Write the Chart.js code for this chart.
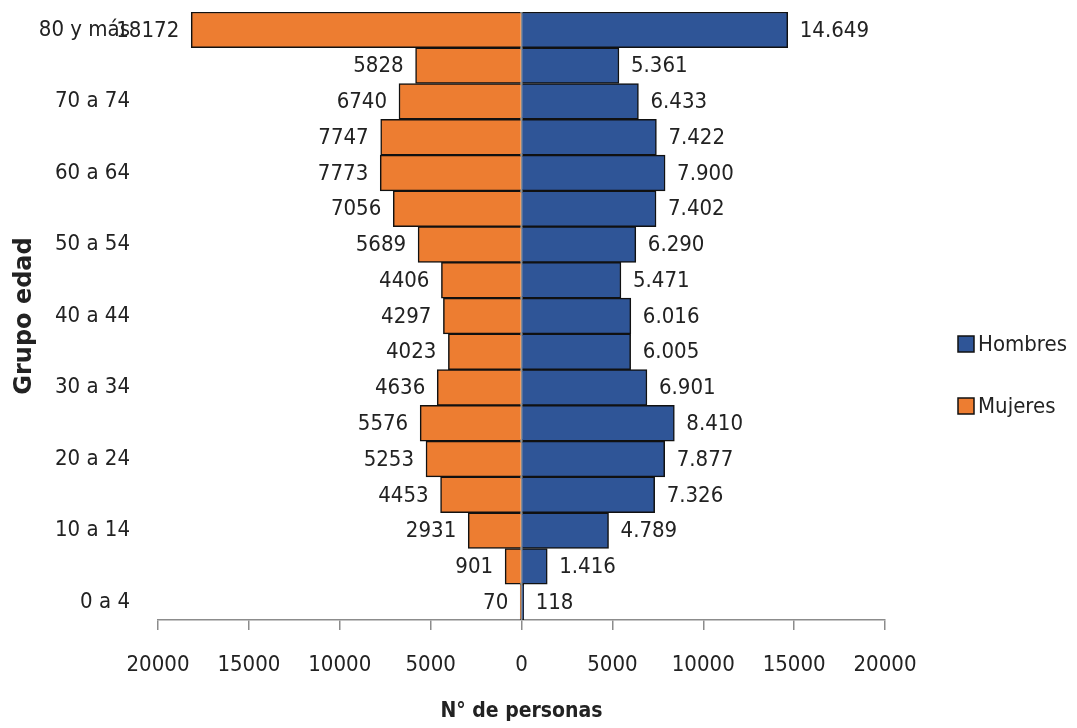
<!DOCTYPE html>
<html>
<head>
<meta charset="utf-8">
<script src="https://cdn.jsdelivr.net/npm/chart.js@4/dist/chart.umd.min.js"></script>
<style>
  body { margin: 0; background: #fff; }
  #caja { width: 1077px; height: 728px; }
</style>
</head>
<body>
<div id="caja"><canvas id="grafica"></canvas></div>
<script>
const grupos = ["80 y más", "75 a 79", "70 a 74", "65 a 69", "60 a 64", "55 a 59", "50 a 54", "45 a 49", "40 a 44",
    "35 a 39", "30 a 34", "25 a 29", "20 a 24", "15 a 19", "10 a 14", "5 a 9", "0 a 4"]
const hombres = [14649, 5361, 6433, 7422, 7900, 7402, 6290, 5471, 6016, 6005, 6901, 8410, 7877, 7326, 4789, 1416, 118]
const mujeres = [18172, 5828, 6740, 7747, 7773, 7056, 5689, 4406, 4297, 4023, 4636, 5576, 5253, 4453, 2931, 901, 70]
const marcas_x = [-20000, -15000, -10000, -5000, 0, 5000, 10000, 15000, 20000]

const fuente = '"DejaVu Sans Condensed", "DejaVu Sans", sans-serif'
const gris = "#8c8c8c"
const texto = "#222"

function conPuntos(n) {
    return String(n).replace(/\B(?=(\d{3})+(?!\d))/g, ".")
}

// etiquetas de valor al final de cada barra
const etiquetas = {
    id: "etiquetas",
    afterDatasetsDraw(chart) {
        const ctx = chart.ctx
        ctx.save()
        ctx.font = "22px " + fuente
        ctx.fillStyle = texto
        ctx.textBaseline = "middle"
        chart.data.datasets.forEach((ds, i) => {
            chart.getDatasetMeta(i).data.forEach((barra, j) => {
                const v = ds.data[j]
                if (v >= 0) {
                    ctx.textAlign = "left"
                    ctx.fillText(conPuntos(v), barra.x + 12, barra.y + 1)
                } else {
                    ctx.textAlign = "right"
                    ctx.fillText(String(-v), barra.x - 12, barra.y + 1)
                }
            })
        })
        ctx.restore()
    }
}

// leyenda a la derecha, separada del area
const leyenda = {
    id: "leyenda",
    afterDraw(chart) {
        const ctx = chart.ctx
        const x = chart.chartArea.right + 73
        const centro = chart.height / 2 + 11
        ctx.save()
        ctx.font = "22px " + fuente
        ctx.textBaseline = "middle"
        ctx.textAlign = "left"
        chart.data.datasets.forEach((ds, i) => {
            const y = centro + (i - 0.5) * 62
            ctx.fillStyle = ds.backgroundColor
            ctx.fillRect(x, y - 8, 16, 16)
            ctx.strokeStyle = "#111"
            ctx.lineWidth = 1.5
            ctx.strokeRect(x, y - 8, 16, 16)
            ctx.fillStyle = texto
            ctx.fillText(ds.label, x + 20, y + 1)
        })
        ctx.restore()
    }
}

const config = {
    type: "bar",
    data: {
        labels: grupos,
        datasets: [
            {
                label: "Hombres",
                data: hombres,
                backgroundColor: "#2f5597",
                borderColor: "#111",
                borderWidth: 1.5,
                barPercentage: 1,
                categoryPercentage: 1
            },
            {
                label: "Mujeres",
                data: mujeres.map(v => -v),
                backgroundColor: "#ed7d31",
                borderColor: "#111",
                borderWidth: 1.5,
                barPercentage: 1,
                categoryPercentage: 1
            }
        ]
    },
    options: {
        indexAxis: "y",
        responsive: true,
        maintainAspectRatio: false,
        animation: false,
        layout: { padding: { left: 0, right: 192, top: 12, bottom: 3 } },
        plugins: {
            legend: { display: false },
            tooltip: { enabled: false }
        },
        scales: {
            x: {
                stacked: true,
                min: -20000,
                max: 20000,
                afterBuildTicks(scale) {
                    scale.ticks = marcas_x.map(v => ({ value: v }))
                },
                afterFit(scale) {
                    scale.height = 105
                },
                grid: {
                    color: c => (c.tick && c.tick.value === 0 ? gris : "transparent"),
                    lineWidth: 1.5,
                    tickColor: gris,
                    tickWidth: 1.5,
                    tickLength: 10
                },
                border: { display: true, color: gris, width: 1.5 },
                ticks: {
                    color: texto,
                    padding: 22,
                    maxRotation: 0,
                    font: { family: fuente, size: 22 },
                    callback: v => Math.abs(v)
                },
                title: {
                    display: true,
                    text: "N° de personas",
                    color: texto,
                    padding: { top: 23, bottom: 1 },
                    font: { family: fuente, size: 21, weight: "bold" }
                }
            },
            y: {
                stacked: true,
                afterFit(scale) {
                    scale.paddingTop = 0
                    scale.paddingBottom = 0
                    scale.width = 158
                },
                grid: { display: false, drawTicks: false },
                border: { display: false },
                ticks: {
                    color: texto,
                    padding: 28,
                    autoSkip: false,
                    font: { family: fuente, size: 22 },
                    callback: (v, i) => (i % 2 === 0 ? grupos[i] : "")
                },
                title: {
                    display: true,
                    text: "Grupo edad",
                    color: texto,
                    padding: { top: 10, bottom: 0 },
                    font: { family: '"DejaVu Sans", sans-serif', size: 24, weight: "bold" }
                }
            }
        }
    },
    plugins: [etiquetas, leyenda]
}

new Chart(document.getElementById("grafica"), config)
</script>
</body>
</html>
